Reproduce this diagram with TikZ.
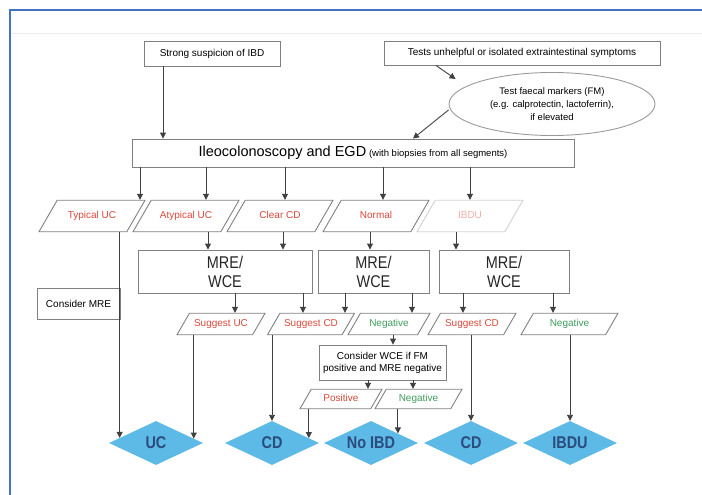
\documentclass[tikz,border=0pt]{standalone}
\usepackage{fontspec}
\setmainfont{Liberation Sans}
\newfontfamily\narrowsf[FakeStretch=0.85]{Liberation Sans}
\usetikzlibrary{shapes.geometric,arrows.meta,calc}

\definecolor{frameblue}{HTML}{4472C4}
\definecolor{labred}{HTML}{D9483B}
\definecolor{labgreen}{HTML}{3E9B5C}
\definecolor{diafill}{HTML}{5DB9E5}
\definecolor{diatext}{HTML}{2B4C7E}

\tikzset{
  box/.style={draw=black!50, line width=0.9pt, fill=white, inner sep=2pt,
    font=\fontsize{10}{12}\selectfont},
  para/.style={trapezium, trapezium left angle=60, trapezium right angle=120,
    trapezium stretches body, draw=black!50, line width=0.9pt, inner xsep=1pt,
    text height=7.5pt, text depth=2pt, font=\fontsize{10}{12}\selectfont},
  rowa/.style={para, inner ysep=11pt, minimum width=106pt},
  rowb/.style={para, inner ysep=6pt},
  rowc/.style={para, inner ysep=5pt},
  mrebox/.style={box, minimum height=43pt, align=center, text=black!85,
    font=\narrowsf\fontsize{17}{19}\selectfont},
  result/.style={diamond, fill=diafill, minimum width=94pt, minimum height=44pt,
    inner sep=0pt, label={[text=diatext, font=\narrowsf\bfseries\fontsize{17}{20}\selectfont]center:#1}},
  conn/.style={->, draw=black!75, line width=0.9pt},
}

\begin{document}
\begin{tikzpicture}[x=1pt, y=-1pt, >={Triangle[width=6pt,length=6pt]}]
  \useasboundingbox (0,0) rectangle (702,495);

  % Rahmen
  \draw[gray!15, line width=1pt] (11,34) -- (702,34);
  \draw[frameblue, line width=2pt] (10,495) -- (10,10) -- (702,10);

  % Start
  \node[box, minimum width=136pt, minimum height=25pt] (strong) at (212,53.5) {Strong suspicion of IBD};
  \node[box, minimum width=276pt, minimum height=24pt] (tests) at (522,53) {Tests unhelpful or isolated extraintestinal symptoms};
  \node[ellipse, draw=black!40, line width=0.9pt, minimum width=206pt, minimum height=63pt,
        inner sep=0pt, align=center, font=\fontsize{9.5}{13}\selectfont] (fm) at (552,104)
        {Test faecal markers (FM)\\(e.g. calprotectin, lactoferrin),\\if elevated};
  \node[box, minimum width=442pt, minimum height=28pt] (ileo) at (353,153)
        {{\fontsize{14.5}{17}\selectfont Ileocolonoscopy and EGD} {\fontsize{9.5}{11}\selectfont (with biopsies from all segments)}};

  % Befunde
  \node[rowa, text=labred] (typ) at (92,216) {Typical UC};
  \node[rowa, text=labred] (aty) at (186,216) {Atypical UC};
  \node[rowa, text=labred] (clr) at (280,216) {Clear CD};
  \node[rowa, text=labred] (nrm) at (376,216) {Normal};
  \node[rowa, draw=black!18, text=labred!45] (ibd) at (470,216) {IBDU};

  % Dünndarm
  \node[mrebox, minimum width=174pt] (mre1) at (225,271.5) {MRE/\\WCE};
  \node[mrebox, minimum width=111pt] (mre2) at (373.5,271.5) {MRE/\\WCE};
  \node[mrebox, minimum width=130pt] (mre3) at (504,271.5) {MRE/\\WCE};
  \node[box, minimum width=83pt, minimum height=31pt] (cmre) at (78.5,303.5) {Consider MRE};

  \node[rowb, minimum width=88pt, text=labred] (sguc) at (221,324) {Suggest UC};
  \node[rowb, minimum width=87pt, text=labred] (sgcd) at (311,324) {Suggest CD};
  \node[rowb, minimum width=82pt, text=labgreen] (neg) at (389,324) {Negative};
  \node[rowb, minimum width=88pt, text=labred] (sgcd2) at (472,324) {Suggest CD};
  \node[rowb, minimum width=97pt, text=labgreen] (neg2) at (569.5,324) {Negative};

  \node[box, minimum width=127pt, minimum height=35pt, align=center] (cwce) at (382.5,362.5)
        {Consider WCE if FM\\positive and MRE negative};
  \node[rowc, minimum width=82pt, text=labred] (pos) at (341,399) {Positive};
  \node[rowc, minimum width=87pt, text=labgreen] (neg3) at (418.5,399) {Negative};

  % Diagnosen
  \node[result=UC] (uc) at (156,443) {};
  \node[result=CD] (cd) at (272,443) {};
  \node[result=No IBD] (noibd) at (371,443) {};
  \node[result=CD] (cd2) at (471,443) {};
  \node[result=IBDU] (ibdu) at (570,443) {};

  % Pfeile oben
  \draw[conn] (strong.south -| 163,0) -- (163,0 |- ileo.north);
  \draw[conn] (tests.south -| 436,0) -- ([xshift=7pt,yshift=25pt]fm.west);
  \draw[conn] ([yshift=-6pt]fm.west) -- (ileo.north -| 413,0);

  \foreach \x/\n in {140/typ, 206/aty, 285/clr, 383/nrm, 470/ibd}
    \draw[conn] (ileo.south -| \x,0) -- (\x,0 |- \n.north);

  \foreach \x/\a/\b in {208/aty/mre1, 283/clr/mre1, 370/nrm/mre2, 456/ibd/mre3}
    \draw[conn] (\a.south -| \x,0) -- (\x,0 |- \b.north);

  \foreach \x/\a/\b in {235/mre1/sguc, 303/mre1/sgcd, 345/mre2/sgcd, 412/mre2/neg, 463/mre3/sgcd2, 553/mre3/neg2}
    \draw[conn] (\a.south -| \x,0) -- (\x,0 |- \b.north);

  \draw[conn] (neg.south -| 393,0) -- (393,0 |- cwce.north);
  \draw[conn] (cwce.south -| 368,0) -- (368,0 |- pos.north);
  \draw[conn] (cwce.south -| 413,0) -- (413,0 |- neg3.north);

  % Pfeile zu den Diagnosen
  \coordinate (u1) at ($(uc.west)!0.23!(uc.north)$);
  \coordinate (u2) at ($(uc.north)!0.8!(uc.east)$);
  \coordinate (c1) at ($(cd.north)!0.78!(cd.east)$);
  \coordinate (n1) at ($(noibd.north)!0.57!(noibd.east)$);
  \draw[conn] (typ.south -| u1) -- (u1);
  \draw[conn] (sguc.south -| u2) -- (u2);
  \draw[conn] (sgcd.south -| cd.north) -- (cd.north);
  \draw[conn] (pos.south -| c1) -- (c1);
  \draw[conn] (neg3.south -| n1) -- (n1);
  \draw[conn] (sgcd2.south -| cd2.north) -- (cd2.north);
  \draw[conn] (neg2.south -| ibdu.north) -- (ibdu.north);

\end{tikzpicture}
\end{document}
